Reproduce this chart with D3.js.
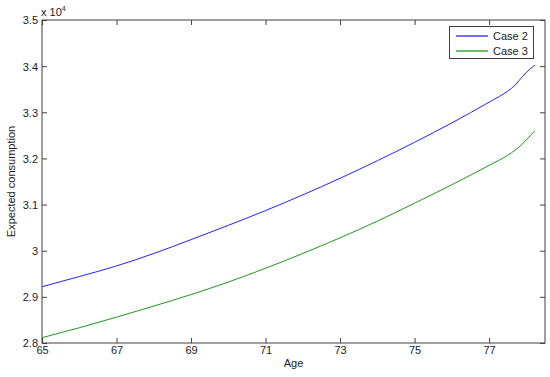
<!DOCTYPE html>
<html><head><meta charset="utf-8">
<script src="https://cdn.jsdelivr.net/npm/d3@7"></script>
<style>body{margin:0;background:#fff}svg{display:block}text{font-family:"Liberation Sans",Arial,sans-serif}</style>
</head><body><svg id="c" width="550" height="377"></svg>
<script>
const ages = [65, 66, 67, 68, 69, 70, 71, 72, 73, 74, 75, 76, 77, 77.5, 77.7, 77.9, 78.1, 78.23];
const case2 = [2.922, 2.944, 2.967, 2.994, 3.024, 3.055, 3.087, 3.121, 3.157, 3.195, 3.235, 3.277, 3.322, 3.346, 3.359, 3.378, 3.394, 3.402];
const case3 = [2.8115, 2.833, 2.856, 2.880, 2.905, 2.932, 2.962, 2.994, 3.028, 3.064, 3.103, 3.143, 3.185, 3.207, 3.218, 3.232, 3.249, 3.260];
const xTicks = [65, 67, 69, 71, 73, 75, 77];
const yTicks = [2.8, 2.9, 3.0, 3.1, 3.2, 3.3, 3.4, 3.5];
const yTickLabels = ["2.8", "2.9", "3", "3.1", "3.2", "3.3", "3.4", "3.5"];
const seriesNames = ["Case 2", "Case 3"];
const colors = ["#2222ff", "#1a9a1a"];

const L = 42, R = 545, T = 20, B = 343;
const svg = d3.select("#c");
const x = d3.scaleLinear().domain([65, 78.5]).range([L, R]);
const y = d3.scaleLinear().domain([2.8, 3.5]).range([B, T]);
const axisCol = "#404040";

svg.append("rect").attr("x", L).attr("y", T).attr("width", R - L).attr("height", B - T)
  .attr("fill", "none").attr("stroke", axisCol).attr("stroke-width", 1);

const tl = 5;
const gxB = svg.append("g").attr("transform", `translate(0,${B})`)
  .call(d3.axisBottom(x).tickValues(xTicks).tickSizeInner(-tl).tickSizeOuter(0).tickPadding(8).tickFormat(d3.format("d")));
const gxT = svg.append("g").attr("transform", `translate(0,${T})`)
  .call(d3.axisTop(x).tickValues(xTicks).tickSizeInner(-tl).tickSizeOuter(0).tickFormat(""));
const gyL = svg.append("g").attr("transform", `translate(${L},0)`)
  .call(d3.axisLeft(y).tickValues(yTicks).tickSizeInner(-tl).tickSizeOuter(0).tickPadding(8).tickFormat((d, i) => yTickLabels[i]));
const gyR = svg.append("g").attr("transform", `translate(${R},0)`)
  .call(d3.axisRight(y).tickValues(yTicks).tickSizeInner(-tl).tickSizeOuter(0).tickFormat(""));
[gxB, gxT, gyL, gyR].forEach(g => {
  g.select(".domain").remove();
  g.selectAll("line").attr("stroke", axisCol);
  g.selectAll("text").attr("fill", "#1a1a1a").style("font-size", "11px").style("font-family", '"Liberation Sans",Arial,sans-serif');
});
gyL.selectAll("text").attr("dx", "4").attr("dy", "0.35em");
gxB.selectAll("text").attr("dy", "0.9em").attr("y", 1);

const line = d3.line().curve(d3.curveMonotoneX).x((d, i) => x(ages[i])).y(d => y(d));
[case2, case3].forEach((s, k) => {
  svg.append("path").datum(s).attr("d", line).attr("fill", "none")
    .attr("stroke", colors[k]).attr("stroke-width", 1);
});

svg.append("text").attr("x", (L + R) / 2).attr("y", 367).attr("text-anchor", "middle")
  .style("font-size", "11px").attr("fill", "#1a1a1a").text("Age");
svg.append("text").attr("transform", `translate(15,${(T + B) / 2}) rotate(-90)`).attr("text-anchor", "middle")
  .style("font-size", "11px").attr("fill", "#1a1a1a").text("Expected consumption");
const ex = svg.append("text").attr("x", 41).attr("y", 16).style("font-size", "11px").attr("fill", "#1a1a1a");
ex.append("tspan").text("x 10");
ex.append("tspan").attr("dy", -5).style("font-size", "7px").text("4");

const lg = svg.append("g");
lg.append("rect").attr("x", 449.5).attr("y", 26.5).attr("width", 84).attr("height", 32)
  .attr("fill", "#fff").attr("stroke", axisCol).attr("stroke-width", 1);
seriesNames.forEach((n, i) => {
  const yy = 36 + i * 15;
  lg.append("path").attr("d", d3.line()([[456, yy], [488, yy]]))
    .attr("fill", "none").attr("stroke", colors[i]).attr("stroke-width", 1.3);
  lg.append("text").attr("x", 493).attr("y", yy + 4).style("font-size", "11px").attr("fill", "#1a1a1a").text(n);
});
</script></body></html>
